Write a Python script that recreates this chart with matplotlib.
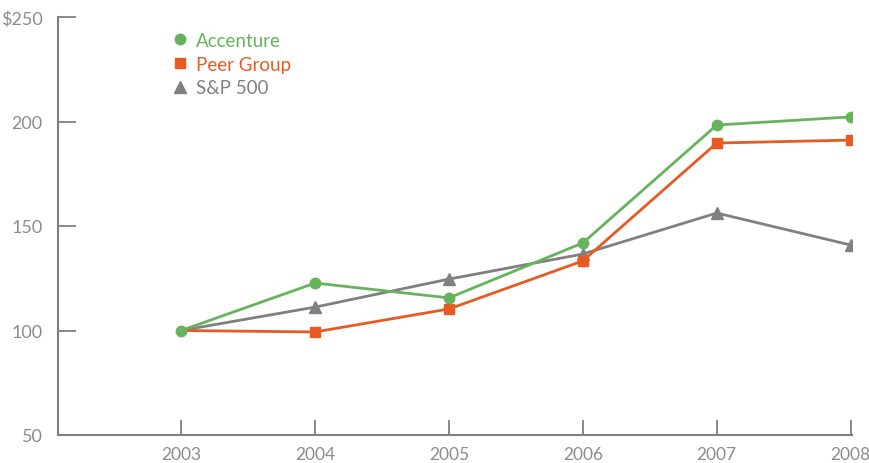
import matplotlib
matplotlib.use('Agg')
import matplotlib.pyplot as plt

# data
years      = [2003, 2004, 2005, 2006, 2007, 2008]
accenture  = [100, 122.7, 115.6, 141.9, 198.3, 202.2]
peer_group = [100, 99.3, 110.3, 133.3, 189.7, 191.1]
sp500      = [100, 111.2, 124.6, 136.6, 156.2, 140.9]
y_ticks    = [50, 100, 150, 200, 250]
y_labels   = ['50', '100', '150', '200', '$250']

green  = '#66b35c'
orange = '#e85a24'
grey   = '#808080'
text_c = '#8c8c8c'

plt.rcParams['font.family'] = ['Lato', 'DejaVu Sans']

fig = plt.figure(figsize=(8.7, 4.64), dpi=100)
ax = fig.add_axes([58/870, 1 - 436/464, (852-58)/870, (436-18)/464])

# the shared 2003 start point only shows the green dot
ax.plot(years, accenture, color=green, lw=2, marker='o', ms=7.5, label='Accenture', zorder=3)
ax.plot(years, peer_group, color=orange, lw=2, marker='s', ms=7, markevery=slice(1, None),
        label='Peer Group', zorder=2)
ax.plot(years, sp500, color=grey, lw=2, marker='^', ms=8.5, markevery=slice(1, None),
        label='S&P 500', zorder=1)

ax.set_xlim(2002.08, 2008.01)
ax.set_ylim(50, 250)
ax.set_xticks(years)
ax.set_yticks(y_ticks)
ax.set_yticklabels(y_labels)

for s in ['top', 'right']:
    ax.spines[s].set_visible(False)
for s in ['left', 'bottom']:
    ax.spines[s].set_color(grey)
    ax.spines[s].set_linewidth(1.5)

ax.tick_params(axis='y', direction='in', length=13, width=1.3, color=grey,
               labelcolor=text_c, labelsize=13, pad=11)
ax.tick_params(axis='x', direction='in', length=11, width=1.3, color=grey,
               labelcolor=text_c, labelsize=12.5, pad=8)

leg = ax.legend(loc='upper left', bbox_to_anchor=((172-58)/794, 1 - (33-18)/418),
                frameon=False, fontsize=13.5, handlelength=0.9, handletextpad=0.4,
                labelspacing=0.36, borderaxespad=0, borderpad=0)
for h in leg.legend_handles:
    h.set_linestyle('')
for t, c in zip(leg.get_texts(), [green, orange, grey]):
    t.set_color(c)

fig.savefig('out.png', dpi=100)
